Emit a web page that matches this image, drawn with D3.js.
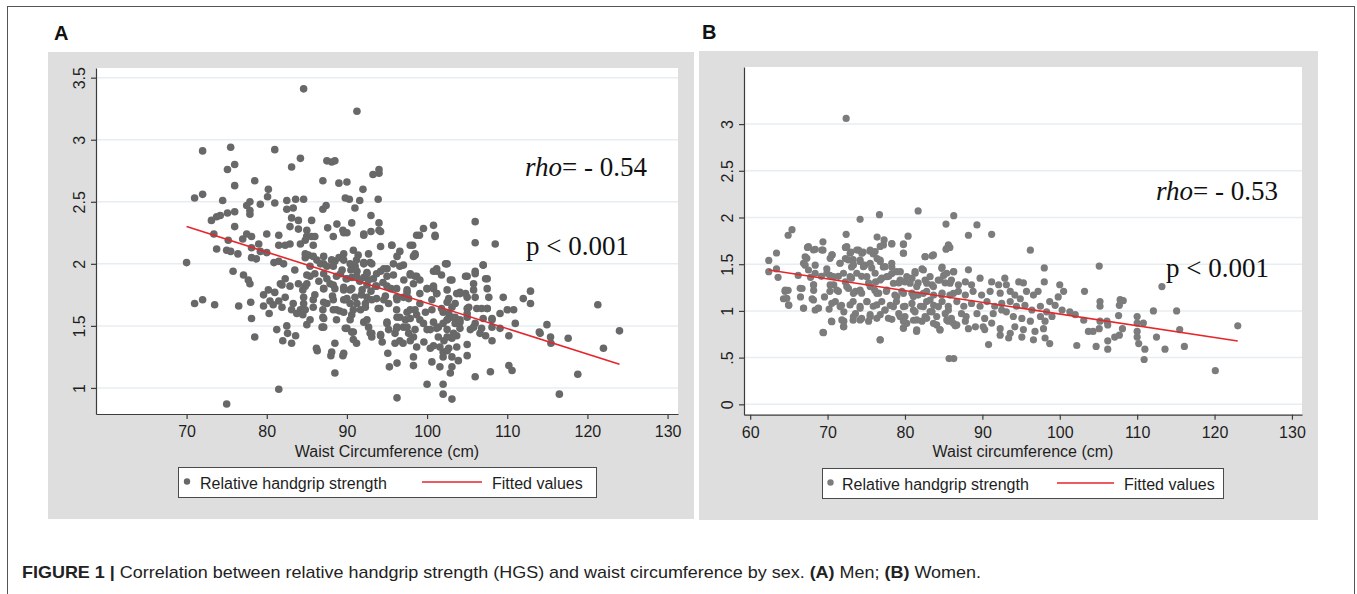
<!DOCTYPE html>
<html>
<head>
<meta charset="utf-8">
<script src="https://cdn.jsdelivr.net/npm/d3@7"></script>
<style>
  body { margin: 0; background: #fff; }
  svg { display: block; font-family: "Liberation Sans", Arial, sans-serif; }
</style>
</head>
<body>
<svg id="fig" width="1357" height="594"></svg>
<script>
// ---- data ----
// Panel A (men): [waist circumference (cm), relative handgrip strength]
const menPoints = [
  [84.6,3.41],[91.25,3.23],[72.0,2.91],[75.5,2.94],[81.0,2.92],[84.2,2.85],[83.1,2.78],[87.5,2.83],[88.1,2.82],[88.5,2.83],
  [76.0,2.80],[75.1,2.76],[76.0,2.63],[78.5,2.67],[87.0,2.67],[89.0,2.65],[90.0,2.66],[93.25,2.72],[94.0,2.76],[94.0,2.73],
  [71.0,2.53],[72.0,2.56],[74.5,2.51],[80.2,2.60],[80.1,2.54],[81.0,2.49],[77.5,2.47],[77.9,2.50],[77.9,2.43],[77.9,2.40],
  [76.0,2.42],[75.1,2.41],[74.2,2.39],[73.75,2.38],[73.1,2.35],[79.2,2.48],
  [82.5,2.51],[83.6,2.52],[84.6,2.52],[82.5,2.44],[83.3,2.45],[83.1,2.37],[83.95,2.35],[82.9,2.30],[83.95,2.28],[85.0,2.27],[85.6,2.35],[85.0,2.22],
  [89.8,2.53],[90.3,2.52],[91.6,2.51],[93.9,2.52],[92.0,2.60],[87.0,2.44],[87.4,2.47],[91.0,2.45],[93.0,2.39],[90.6,2.33],[94.0,2.33],
  [88.75,2.32],[87.6,2.29],[89.5,2.27],[90.0,2.25],[92.1,2.24],[93.0,2.26],[94.0,2.27],
  [73.4,2.24],[75.2,2.19],[76.0,2.30],[77.0,2.20],[77.5,2.24],[78.1,2.22],[73.75,2.12],[75.0,2.11],[75.5,2.10],[76.4,2.08],
  [78.1,2.13],[79.0,2.16],[79.2,2.10],[80.0,2.09],[80.0,2.24],[81.5,2.23],[82.3,2.15],[81.5,2.15],[82.9,2.16],[84.2,2.16],[84.8,2.19],[85.8,2.15],[85.6,2.22],
  [70.0,2.01],[78.1,2.05],[78.7,2.04],[80.9,2.01],[81.5,2.02],[82.1,2.00],[83.5,1.95],[84.8,2.05],[85.2,2.07],[86.25,2.03],
  [87.1,2.00],[87.5,1.98],[88.1,2.03],[88.5,2.02],[89.0,2.05],[89.6,2.03],[91.2,2.03],[92.1,2.01],[91.0,1.98],[92.9,2.01],
  [75.8,1.94],[77.1,1.91],[77.7,1.87],[77.9,1.84],[79.6,1.75],[80.2,1.79],[81.0,1.77],[81.7,1.84],[82.3,1.88],[81.9,1.83],
  [82.9,1.82],[83.95,1.84],[84.5,1.79],[85.0,1.84],[85.4,1.90],[86.0,1.92],[87.1,1.92],[87.1,1.80],[87.9,1.84],[88.5,1.80],
  [89.2,1.92],[89.6,1.81],[90.4,1.79],[90.6,1.89],[91.25,1.94],[92.1,1.89],[92.7,1.87],[93.3,1.88],[94.2,1.94],[95.0,1.96],[96.25,2.06],[95.6,2.15],
  [90.5,1.95],[91.6,1.86],[92.5,1.93],[93.6,1.82],[89.9,1.88],[94.5,1.85],[93.0,1.78],[91.8,1.75],[90.0,1.72],[94.8,1.74],
  [95.5,1.80],[86.5,1.86],[86.0,1.75],[88.2,1.74],
  [71.0,1.68],[72.0,1.71],[73.5,1.67],[76.5,1.66],[78.0,1.69],[79.6,1.66],[80.4,1.70],[80.8,1.67],[81.5,1.70],[81.9,1.65],
  [82.3,1.73],[83.3,1.68],[84.2,1.63],[84.6,1.68],[83.1,1.63],[83.75,1.60],[84.5,1.59],[87.0,1.63],[87.5,1.68],[88.7,1.63],
  [89.1,1.62],[89.8,1.71],[90.4,1.68],[90.6,1.59],[91.25,1.68],[91.7,1.63],[92.3,1.68],[93.1,1.71],[94.1,1.64],[95.2,1.68],[96.25,1.71],[96.25,1.57],
  [78.1,1.56],[80.3,1.60],[85.0,1.51],[87.0,1.57],[87.1,1.49],[89.8,1.48],[90.6,1.45],[92.1,1.53],[92.7,1.49],[93.1,1.44],
  [94.2,1.42],[95.0,1.52],[96.0,1.44],[96.25,1.49],
  [81.25,1.47],[82.5,1.50],[82.6,1.44],[83.6,1.42],[82.0,1.38],[83.1,1.36],[78.5,1.41],[88.5,1.36],[90.8,1.39],[95.1,1.28],
  [95.3,1.17],[96.25,1.20],[96.0,1.36],
  [86.3,1.30],[88.0,1.26],[89.5,1.26],[88.5,1.12],[81.5,0.99],[75.0,0.87],[96.25,0.92],
  [99.55,2.285],[100.8,2.31],[99.05,2.23],[101.0,2.23],[106.0,2.34],[106.0,2.17],[108.5,2.16],
  [98.2,2.15],[98.5,2.08],[98.3,2.06],[97.05,1.99],[97.9,1.91],[98.5,1.90],[99.1,1.87],[100.8,1.94],[101.2,1.96],[102.3,2.00],
  [101.8,1.91],[103.1,1.87],[105.0,1.90],[106.0,1.94],[105.8,1.84],[107.5,1.88],[107.0,1.99],
  [97.5,1.79],[97.05,1.73],[100.0,1.80],[100.8,1.80],[101.2,1.76],[102.7,1.72],[103.5,1.68],[104.1,1.76],[104.8,1.76],[106.0,1.73],
  [107.7,1.73],[109.5,1.73],[106.8,1.64],[107.5,1.64],[112.0,1.72],[112.9,1.78],[112.9,1.68],[121.3,1.67],
  [97.9,1.63],[98.7,1.59],[100.6,1.63],[101.8,1.64],[102.7,1.60],[103.1,1.57],[102.5,1.55],[103.5,1.52],[104.1,1.55],[105.0,1.64],
  [105.0,1.57],[106.0,1.52],[108.1,1.56],[109.1,1.60],[110.0,1.63],[110.8,1.63],[111.0,1.52],[109.1,1.48],[110.2,1.42],[107.3,1.42],[108.1,1.49],
  [97.3,1.55],[97.05,1.49],[97.7,1.44],[98.3,1.41],[99.55,1.52],[100.4,1.47],[101.4,1.49],[102.0,1.52],[101.4,1.41],[102.5,1.41],
  [103.1,1.40],[103.7,1.42],[104.1,1.48],[105.0,1.35],[114.95,1.51],[114.1,1.44],[115.4,1.41],[115.45,1.36],[117.6,1.40],[122.0,1.32],
  [124.0,1.46],[114.0,1.45],
  [97.0,1.36],[98.7,1.33],[100.4,1.32],[101.6,1.33],[102.0,1.29],[102.7,1.32],[102.0,1.25],[103.1,1.25],[103.9,1.22],[105.0,1.26],
  [100.6,1.21],[101.6,1.17],[103.1,1.17],[102.9,1.12],[100.0,1.03],[102.0,1.03],[106.0,1.09],[107.9,1.13],[110.2,1.18],[110.6,1.14],
  [118.8,1.11],[102.0,0.95],[103.1,0.91],[116.5,0.95],[98.3,1.25],[98.3,1.18],
  // dense centre
  [85.0,2.22],[86.0,2.22],[88.3,2.22],[89.6,2.25],[92.1,2.23],[94.2,2.26],[98.7,2.23],[101.0,2.22],
  [84.8,2.08],[85.8,2.06],[87.1,2.06],[88.1,2.03],[89.6,2.08],[90.8,2.11],[91.4,2.07],[92.7,2.08],[94.2,2.14],[95.6,2.15],
  [96.6,2.10],[97.9,2.15],[98.5,2.07],[102.5,2.00],[107.0,1.99],
  [85.4,1.98],[86.7,2.00],[88.3,1.98],[89.4,1.95],[90.4,2.00],[91.0,1.98],[92.1,2.00],[93.1,2.00],[94.6,1.96],[95.8,2.00],
  [96.6,1.98],[97.9,1.92],[98.7,1.90],[101.2,1.94],[102.9,1.87],[104.8,1.90],[106.0,1.92],[107.3,1.88],
  [85.0,1.91],[87.5,1.88],[88.7,1.90],[90.0,1.88],[91.2,1.90],[92.5,1.92],[93.7,1.92],[95.0,1.90],[95.8,1.91],[97.1,1.87],
  [98.3,1.84],[100.0,1.80],[100.8,1.82],[102.5,1.79],[104.1,1.77],[105.8,1.79],[107.5,1.80],
  [84.8,1.82],[87.1,1.80],[88.3,1.83],[89.6,1.79],[90.6,1.80],[91.9,1.79],[92.5,1.83],[93.7,1.82],[95.0,1.82],[96.2,1.80],
  [97.5,1.77],[99.1,1.76],[101.2,1.76],[103.7,1.76],[105.0,1.73],
  [84.6,1.73],[85.8,1.71],[87.1,1.69],[88.3,1.71],[89.6,1.71],[91.0,1.73],[92.5,1.73],[93.7,1.72],[94.6,1.71],[96.2,1.73],
  [97.7,1.72],[99.1,1.68],[100.6,1.71],[102.5,1.69],[103.1,1.65],[105.2,1.65],[106.2,1.64],[107.5,1.64],
  [84.8,1.63],[85.8,1.65],[88.3,1.63],[89.6,1.61],[90.8,1.63],[92.3,1.65],[93.9,1.64],[96.2,1.63],[97.5,1.61],[98.5,1.63],
  [99.8,1.61],[102.0,1.61],[103.5,1.57],[105.0,1.60],[107.0,1.56],[108.1,1.55],
  [85.4,1.55],[87.1,1.56],[88.7,1.55],[90.4,1.55],[92.5,1.55],[95.0,1.53],[96.6,1.57],[97.9,1.56],[99.1,1.55],[100.8,1.53],
  [102.5,1.55],[104.1,1.53],[105.8,1.49],[106.8,1.48],
  [86.9,1.49],[90.0,1.48],[90.8,1.45],[92.9,1.44],[94.2,1.43],[95.2,1.47],[96.2,1.48],[97.5,1.49],[98.5,1.47],[100.0,1.47],
  [101.2,1.48],[102.5,1.47],[103.3,1.44],[105.4,1.47],[106.6,1.44],[108.1,1.38],
  [86.2,1.32],[88.1,1.29],[89.6,1.28],[91.2,1.36],[93.1,1.41],[94.4,1.37],[96.6,1.38],[97.9,1.38],[99.6,1.37],[100.8,1.34],
  [102.1,1.38],[102.5,1.30],[103.7,1.33]
];
// fitted line end points for men
const menFit = [[70, 2.30], [124, 1.19]];
const menXTicks = [70, 80, 90, 100, 110, 120, 130];
const menYTicks = [1, 1.5, 2, 2.5, 3, 3.5];
const menYLabels = ["1", "1.5", "2", "2.5", "3", "3.5"];

// Panel B (women)
const womenPoints = [
  [72.4,3.06],
  [81.7,2.07],[76.7,2.03],[74.2,1.98],[86.3,2.02],[85.3,1.93],[89.3,1.92],[91.2,1.82],[88.2,1.81],[65.4,1.87],[64.9,1.81],
  [72.4,1.82],[76.4,1.79],[77.3,1.76],[80.4,1.80],[79.8,1.71],[78.3,1.72],[69.4,1.74],[79.8,1.62],[82.6,1.58],[83.5,1.59],[85.3,1.66],[85.8,1.68],
  [63.4,1.62],[62.4,1.54],[67.4,1.68],[68.4,1.66],[69.4,1.65],[70.6,1.60],[72.3,1.68],[73.0,1.63],[74.0,1.65],[74.6,1.63],
  [75.5,1.64],[75.9,1.61],[76.8,1.69],[76.4,1.56],[76.8,1.53],[67.1,1.58],[68.4,1.49],[67.1,1.49],[71.6,1.51],[72.3,1.56],
  [73.3,1.55],[73.1,1.47],[74.2,1.53],[74.8,1.49],[75.7,1.46],[77.2,1.47],[78.3,1.47],[78.3,1.40],[79.4,1.42],[81.3,1.42],
  [82.2,1.45],[84.8,1.47],[86.3,1.42],[88.2,1.44],[85.0,1.38],
  [63.4,1.45],[62.4,1.42],[63.6,1.36],[66.2,1.38],[69.2,1.37],[70.3,1.38],[71.4,1.37],[72.3,1.31],[73.1,1.35],[74.4,1.37],
  [75.3,1.30],[76.2,1.31],[77.0,1.35],[77.9,1.37],[79.2,1.30],[80.0,1.31],[80.9,1.35],[81.7,1.30],[82.6,1.33],[83.5,1.28],
  [84.3,1.33],[85.2,1.30],[86.0,1.33],[86.9,1.28],[87.8,1.31],[88.6,1.28],[89.7,1.35],[91.2,1.31],[92.1,1.28],
  [68.2,1.28],[66.7,1.24],[64.5,1.21],[64.9,1.22],[68.2,1.22],[70.3,1.21],[71.4,1.21],[72.7,1.24],[73.6,1.21],[74.4,1.19],
  [76.1,1.22],[76.6,1.19],[77.6,1.21],[78.7,1.17],[79.6,1.21],[80.9,1.19],[81.7,1.17],[82.8,1.21],[83.7,1.17],[84.8,1.19],
  [85.8,1.17],[86.9,1.21],[87.8,1.17],[88.8,1.21],[89.9,1.17],[91.0,1.21],[92.3,1.19],
  [64.3,1.13],[66.5,1.15],[68.0,1.13],[71.0,1.10],[71.8,1.06],[73.3,1.10],[74.2,1.05],[75.1,1.10],[75.9,1.05],[77.0,1.10],
  [78.1,1.06],[78.9,1.10],[80.0,1.05],[80.9,1.08],[82.0,1.05],[82.8,1.10],[83.7,1.06],[84.8,1.10],[85.6,1.05],[86.7,1.10],
  [87.6,1.05],[88.6,1.08],[89.7,1.05],[90.6,1.10],[91.6,1.05],[92.5,1.08],
  [65.0,1.06],[66.9,1.03],[68.4,1.01],[68.8,1.03],[72.1,0.99],[73.6,0.97],[74.4,0.92],[75.5,0.96],[76.8,0.96],[77.4,1.01],
  [79.2,0.97],[80.0,0.94],[81.3,0.99],[82.6,0.94],[83.5,0.99],[84.1,0.94],[85.2,0.97],[86.0,0.92],[87.3,0.97],[87.9,0.94],
  [89.3,0.97],[90.3,0.92],[91.4,0.97],[92.5,1.01],
  [70.5,0.89],[72.1,0.89],[73.3,0.90],[75.3,0.89],[78.3,0.91],[79.8,0.89],[81.1,0.90],[82.2,0.89],[84.1,0.85],[85.6,0.89],
  [86.7,0.85],[87.8,0.89],[89.1,0.83],[90.1,0.83],[91.2,0.87],[92.3,0.81],
  [72.1,0.83],[79.8,0.82],[81.5,0.78],[84.5,0.80],[86.5,0.84],[88.2,0.81],[90.3,0.80],[92.3,0.74],[69.4,0.77],[76.8,0.69],
  [90.8,0.64],[85.7,0.49],[86.3,0.49],
  [69.9,1.45],[70.8,1.28],[69.6,1.15],[70.2,1.02],[67.8,1.36],
  // dense centre
  [67.53,1.688],[68.18,1.652],[69.25,1.652],[67.32,1.563],[66.89,1.51],[70.55,1.599],[70.33,1.563],[72.48,1.688],[72.91,1.617],
  [73.77,1.652],[74.42,1.617],[75.5,1.652],[76.14,1.635],[77.22,1.706],[78.29,1.717],[79.8,1.717],[79.8,1.617],[82.6,1.581],
  [83.68,1.599],[85.4,1.67],[85.61,1.706],
  [71.62,1.51],[72.7,1.545],[73.34,1.492],[74.2,1.545],[74.63,1.474],[75.5,1.51],[76.79,1.545],[77.43,1.474],[78.29,1.51],
  [78.94,1.42],[80.23,1.367],[81.31,1.403],[82.38,1.438],[83.24,1.367],[84.75,1.456],[85.4,1.403],[86.26,1.42],
  [67.53,1.438],[68.39,1.403],[69.9,1.403],[70.76,1.367],[72.05,1.403],[72.91,1.367],[73.77,1.403],[75.07,1.367],[76.14,1.403],
  [76.79,1.331],[77.65,1.367],[78.51,1.296],[79.37,1.331],[80.66,1.296],[81.52,1.26],[82.81,1.296],[83.68,1.26],[84.54,1.331],[85.83,1.296],
  [64.52,1.224],[64.73,1.135],[66.46,1.242],[68.18,1.278],[70.33,1.278],[71.19,1.224],[72.48,1.26],[73.34,1.188],[74.2,1.224],
  [75.5,1.26],[76.36,1.188],[77.65,1.224],[78.94,1.153],[79.8,1.188],[81.09,1.153],[82.38,1.188],[83.24,1.117],[84.75,1.171],[86.26,1.188],
  [64.95,1.064],[66.89,1.028],[68.18,1.117],[68.82,1.028],[70.55,1.081],[71.62,1.046],[72.91,1.064],[74.2,1.028],[75.07,1.099],
  [76.36,1.064],[77.43,1.01],[78.51,1.046],[79.8,1.046],[81.09,1.01],[82.38,1.046],[83.24,0.992],[84.32,1.046],[85.61,1.01],
  [70.55,0.885],[71.84,0.903],[72.05,0.832],[73.34,0.939],[74.2,0.903],[75.5,0.939],[76.36,0.921],[77.86,0.921],[79.37,0.939],
  [80.23,0.867],[81.52,0.903],[82.81,0.921],[83.68,0.867],[84.54,0.796],[85.4,0.903],[86.26,0.867],[79.8,0.814],[81.52,0.796],
  [76.79,0.689],[69.47,0.767],
  [96.2,1.65],[98.0,1.46],[105.1,1.48],[113.2,1.26],[92.9,1.35],[93.1,1.28],[94.7,1.31],[95.3,1.30],[98.0,1.31],[100.0,1.28],
  [100.5,1.21],[99.8,1.15],[103.2,1.21],[105.2,1.10],[105.2,1.05],[107.8,1.12],[108.2,1.11],[107.7,1.06],[112.1,1.00],[115.1,1.00],
  [93.6,1.21],[94.2,1.17],[94.9,1.13],[95.7,1.21],[96.6,1.17],[97.2,1.21],[98.7,1.10],[99.4,1.06],[101.3,0.99],[102.0,0.96],
  [93.6,1.10],[94.4,1.05],[95.5,1.06],[96.4,1.01],[97.5,1.05],[98.3,0.99],[99.0,0.94],[100.3,1.01],[93.1,0.99],[94.0,0.94],
  [95.1,0.92],[96.2,0.89],[97.5,0.94],[98.1,0.89],[94.2,0.83],[95.3,0.80],[96.8,0.78],[97.9,0.81],[93.6,0.76],[95.1,0.72],
  [96.6,0.69],[98.1,0.71],[98.7,0.65],[93.4,0.71],
  [103.1,0.90],[103.7,0.78],[104.3,0.78],[105.1,0.81],[106.1,0.89],[106.2,0.85],[105.2,0.89],[107.6,0.95],[108.1,0.81],[107.1,0.72],
  [107.7,0.74],[106.2,0.68],[102.2,0.63],[104.7,0.62],[106.2,0.59],[110.0,0.94],[110.0,0.87],[110.8,0.87],[110.0,0.78],[110.0,0.72],
  [110.2,0.65],[111.0,0.59],[110.9,0.48],[112.5,0.72],[113.6,0.59],[115.5,0.80],[116.1,0.62],[123.0,0.84],[120.1,0.36]
];
const womenFit = [[62.4, 1.438], [123, 0.678]];
const womenXTicks = [60, 70, 80, 90, 100, 110, 120, 130];
const womenYTicks = [0, 0.5, 1, 1.5, 2, 2.5, 3];
const womenYLabels = ["0", ".5", "1", "1.5", "2", "2.5", "3"];

const legendLabels = ["Relative handgrip strength", "Fitted values"];

// ---- layout ----
const svg = d3.select("#fig");
const red = "#e5262b";
const axisColor = "#3c3c3c";

// outer frame
svg.append("rect")
  .attr("x", 7.5).attr("y", 6.5)
  .attr("width", 1347).attr("height", 620)
  .attr("fill", "none").attr("stroke", "#555").attr("stroke-width", 1);

const panels = [
  {
    tag: "A", tagX: 54, tagY: 40,
    bg: { x: 48, y: 52, w: 646, h: 467 },
    plot: { x0: 96, x1: 678, y0: 68, y1: 414 },
    xDomain: [58.7, 131.3], yDomain: [0.79, 3.578],
    points: menPoints, fit: menFit, dot: "#686868", r: 3.8,
    xTicks: menXTicks, yTicks: menYTicks, yLabels: menYLabels,
    xTitle: "Waist Circumference (cm)",
    rho: "- 0.54", rhoX: 525, rhoY: 176, pX: 526, pY: 255,
    legend: { x: 178, y: 467, w: 418, h: 30, dotX: 187, text1X: 200, lineX0: 422, lineX1: 482, text2X: 492 }
  },
  {
    tag: "B", tagX: 702, tagY: 39,
    bg: { x: 699, y: 51, w: 619, h: 469 },
    plot: { x0: 744, x1: 1302, y0: 67, y1: 414.7 },
    xDomain: [59.2, 131.3], yDomain: [-0.111, 3.611],
    points: womenPoints, fit: womenFit, dot: "#7c7c7c", r: 3.6,
    xTicks: womenXTicks, yTicks: womenYTicks, yLabels: womenYLabels,
    xTitle: "Waist circumference (cm)",
    rho: "- 0.53", rhoX: 1156, rhoY: 200, pX: 1166, pY: 277,
    legend: { x: 822, y: 468, w: 401, h: 30, dotX: 830.5, text1X: 842, lineX0: 1057, lineX1: 1114, text2X: 1124 }
  }
];

panels.forEach(function(p) {
  const g = svg.append("g");

  g.append("text")
    .attr("x", p.tagX).attr("y", p.tagY)
    .attr("font-size", 20).attr("font-weight", "bold").attr("fill", "#111")
    .text(p.tag);

  // gray graph region
  g.append("rect")
    .attr("x", p.bg.x).attr("y", p.bg.y)
    .attr("width", p.bg.w).attr("height", p.bg.h)
    .attr("fill", "#dedede");

  // white plot region
  g.append("rect")
    .attr("x", p.plot.x0).attr("y", p.plot.y0)
    .attr("width", p.plot.x1 - p.plot.x0).attr("height", p.plot.y1 - p.plot.y0)
    .attr("fill", "#fff");

  const x = d3.scaleLinear().domain(p.xDomain).range([p.plot.x0, p.plot.x1]);
  const y = d3.scaleLinear().domain(p.yDomain).range([p.plot.y1, p.plot.y0]);

  // grid lines
  g.selectAll(".grid")
    .data(p.yTicks)
    .enter().append("line")
    .attr("x1", p.plot.x0).attr("x2", p.plot.x1)
    .attr("y1", function(d) { return y(d); })
    .attr("y2", function(d) { return y(d); })
    .attr("stroke", "#e7eef1").attr("stroke-width", 1.5);

  // scatter
  g.selectAll(".dot")
    .data(p.points)
    .enter().append("circle")
    .attr("cx", function(d) { return x(d[0]); })
    .attr("cy", function(d) { return y(d[1]); })
    .attr("r", p.r)
    .attr("fill", p.dot);

  // fitted line
  g.append("path")
    .datum(p.fit)
    .attr("d", d3.line().x(function(d) { return x(d[0]); }).y(function(d) { return y(d[1]); }))
    .attr("stroke", red).attr("stroke-width", 1.6).attr("fill", "none");

  // x axis
  const xa = g.append("g")
    .attr("transform", "translate(0," + p.plot.y1 + ")")
    .call(d3.axisBottom(x).tickValues(p.xTicks).tickSize(5).tickSizeOuter(0));
  xa.selectAll("text").attr("y", 12).attr("font-size", 16).attr("fill", "#1e1e1e")
    .attr("font-family", "Liberation Sans, Arial, sans-serif");

  // y axis, labels turned like in Stata
  const ya = g.append("g")
    .attr("transform", "translate(" + p.plot.x0 + ",0)")
    .call(d3.axisLeft(y).tickValues(p.yTicks).tickSize(5).tickSizeOuter(0)
      .tickFormat(function(d, i) { return p.yLabels[i]; }));
  ya.selectAll("text")
    .attr("x", null).attr("dy", null)
    .attr("text-anchor", "middle")
    .attr("transform", "translate(-11,0) rotate(-90)")
    .attr("font-size", 16).attr("fill", "#1e1e1e")
    .attr("font-family", "Liberation Sans, Arial, sans-serif");

  [xa, ya].forEach(function(a) {
    a.select(".domain").attr("stroke", axisColor).attr("stroke-width", 1.2);
    a.selectAll(".tick line").attr("stroke", axisColor).attr("stroke-width", 1.2);
  });

  // axis title
  g.append("text")
    .attr("x", (p.plot.x0 + p.plot.x1) / 2).attr("y", 456.5)
    .attr("text-anchor", "middle").attr("font-size", 16).attr("fill", "#1e1e1e")
    .text(p.xTitle);

  // statistics
  const rho = g.append("text")
    .attr("x", p.rhoX).attr("y", p.rhoY)
    .attr("font-family", "Liberation Serif, Times New Roman, serif")
    .attr("font-size", 27).attr("fill", "#111");
  rho.append("tspan").attr("font-style", "italic").text("rho");
  rho.append("tspan").text("= " + p.rho);

  g.append("text")
    .attr("x", p.pX).attr("y", p.pY)
    .attr("font-family", "Liberation Serif, Times New Roman, serif")
    .attr("font-size", 27).attr("fill", "#111")
    .text("p < 0.001");

  // legend
  const L = p.legend;
  const cy = L.y + L.h / 2;
  g.append("rect")
    .attr("x", L.x + 0.5).attr("y", L.y + 0.5)
    .attr("width", L.w).attr("height", L.h)
    .attr("fill", "#fff").attr("stroke", "#4a4a4a").attr("stroke-width", 1);
  g.append("circle").attr("cx", L.dotX).attr("cy", cy - 0.5).attr("r", 3.2).attr("fill", p.dot);
  g.append("text").attr("x", L.text1X).attr("y", cy + 6.5)
    .attr("font-size", 16).attr("fill", "#1e1e1e").text(legendLabels[0]);
  g.append("line")
    .attr("x1", L.lineX0).attr("x2", L.lineX1).attr("y1", cy).attr("y2", cy)
    .attr("stroke", red).attr("stroke-width", 1.6);
  g.append("text").attr("x", L.text2X).attr("y", cy + 6.5)
    .attr("font-size", 16).attr("fill", "#1e1e1e").text(legendLabels[1]);
});

// caption
const cap = svg.append("text")
  .attr("x", 22).attr("y", 578)
  .attr("font-size", 17).attr("fill", "#222")
  .attr("textLength", 959).attr("lengthAdjust", "spacingAndGlyphs");
cap.append("tspan").attr("font-weight", "bold").text("FIGURE 1 | ");
cap.append("tspan").text("Correlation between relative handgrip strength (HGS) and waist circumference by sex. ");
cap.append("tspan").attr("font-weight", "bold").text("(A)");
cap.append("tspan").text(" Men; ");
cap.append("tspan").attr("font-weight", "bold").text("(B)");
cap.append("tspan").text(" Women.");
</script>
</body>
</html>
